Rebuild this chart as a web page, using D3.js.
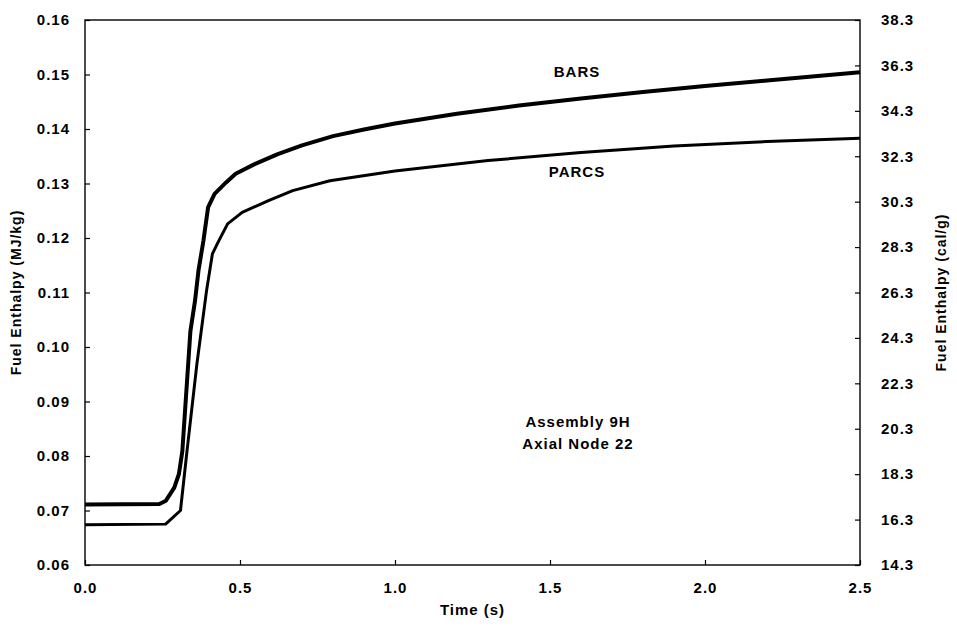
<!DOCTYPE html>
<html>
<head>
<meta charset="utf-8">
<script src="https://cdn.jsdelivr.net/npm/d3@7"></script>
<style>
body { margin: 0; background: #fff; }
text { font-family: "Liberation Sans", Arial, sans-serif; font-weight: bold; fill: #000; }
</style>
</head>
<body>
<svg id="chart" width="957" height="631"></svg>
<script>
// values
var barsTime = [0, 0.24, 0.261, 0.288, 0.303, 0.314, 0.34, 0.355, 0.366, 0.382, 0.397, 0.418, 0.455, 0.486, 0.549, 0.622, 0.7, 0.8, 0.9, 1.0, 1.2, 1.4, 1.6, 1.8, 2.0, 2.2, 2.4, 2.5]
var barsEnth = [0.0711, 0.0712, 0.0718, 0.0742, 0.0767, 0.0809, 0.1029, 0.1085, 0.114, 0.1195, 0.1256, 0.1281, 0.1302, 0.1318, 0.1336, 0.1354, 0.137, 0.1387, 0.1399, 0.141, 0.1428, 0.1443, 0.1456, 0.1468, 0.1479, 0.1489, 0.1499, 0.1504]
var parcsTime = [0, 0.26, 0.308, 0.329, 0.361, 0.392, 0.411, 0.429, 0.46, 0.507, 0.59, 0.67, 0.79, 1.0, 1.3, 1.6, 1.9, 2.2, 2.5]
var parcsEnth = [0.0674, 0.0675, 0.07, 0.0809, 0.0969, 0.1103, 0.1171, 0.1192, 0.1226, 0.1247, 0.1268, 0.1287, 0.1305, 0.1323, 0.1342, 0.1357, 0.1369, 0.1377, 0.1383]
var xTicks = [0, 0.5, 1.0, 1.5, 2.0, 2.5]
var leftTicks = [0.06, 0.07, 0.08, 0.09, 0.10, 0.11, 0.12, 0.13, 0.14, 0.15, 0.16]
var rightTicks = [14.3, 16.3, 18.3, 20.3, 22.3, 24.3, 26.3, 28.3, 30.3, 32.3, 34.3, 36.3, 38.3]

var mLeft = 85, mRight = 860, mTop = 20, mBottom = 565

var svg = d3.select("#chart")
var x = d3.scaleLinear().domain([0, 2.5]).range([mLeft, mRight])
var y = d3.scaleLinear().domain([0.06, 0.16]).range([mBottom, mTop])
var y2 = d3.scaleLinear().domain([14.3, 38.3]).range([mBottom, mTop])

// axes, ticks point into the plot
var gx = svg.append("g")
.attr("transform", "translate(0," + mBottom + ")")
.call(d3.axisBottom(x).tickValues(xTicks).tickSize(-5).tickPadding(17).tickFormat(d3.format(".1f")))
var gl = svg.append("g")
.attr("transform", "translate(" + mLeft + ",0)")
.call(d3.axisLeft(y).tickValues(leftTicks).tickSize(-5).tickPadding(15).tickFormat(d3.format(".2f")))
var gr = svg.append("g")
.attr("transform", "translate(" + mRight + ",0)")
.call(d3.axisRight(y2).tickValues(rightTicks).tickSize(-5).tickPadding(21).tickFormat(d3.format(".1f")))
;[gx, gl, gr].forEach(function (g) {
  g.select(".domain").remove()
  g.selectAll(".tick line").attr("stroke", "#000").attr("stroke-width", 1.2)
  g.selectAll(".tick text").style("font-size", "15px").style("letter-spacing", "1px")
})

svg.append("rect")
.attr("x", mLeft).attr("y", mTop)
.attr("width", mRight - mLeft).attr("height", mBottom - mTop)
.attr("fill", "none").attr("stroke", "#000").attr("stroke-width", 1.4)

var line = d3.line()
.x(function (d) { return x(d[0]) })
.y(function (d) { return y(d[1]) })

svg.append("path")
.datum(parcsTime.map(function (t, i) { return [t, parcsEnth[i]] }))
.attr("d", line).attr("fill", "none").attr("stroke", "#000")
.attr("stroke-width", 3).attr("stroke-linejoin", "round")
svg.append("path")
.datum(barsTime.map(function (t, i) { return [t, barsEnth[i]] }))
.attr("d", line).attr("fill", "none").attr("stroke", "#000")
.attr("stroke-width", 4).attr("stroke-linejoin", "round")

// labels
function label(txt, px, py, size) {
  return svg.append("text").attr("x", px).attr("y", py)
  .attr("text-anchor", "middle").attr("dominant-baseline", "middle")
  .style("font-size", size + "px").style("letter-spacing", "1px").text(txt)
}
label("BARS", 577, 73, 15)
label("PARCS", 577, 173, 15)
label("Assembly 9H", 578, 423, 15)
label("Axial Node 22", 578, 445, 15)
label("Time (s)", (mLeft + mRight) / 2, 611, 15)
label("Fuel Enthalpy (MJ/kg)", 0, 0, 14).attr("transform", "translate(17," + (mTop + mBottom) / 2 + ") rotate(-90)")
label("Fuel Enthalpy (cal/g)", 0, 0, 14).attr("transform", "translate(942," + (mTop + mBottom) / 2 + ") rotate(-90)")
</script>
</body>
</html>
